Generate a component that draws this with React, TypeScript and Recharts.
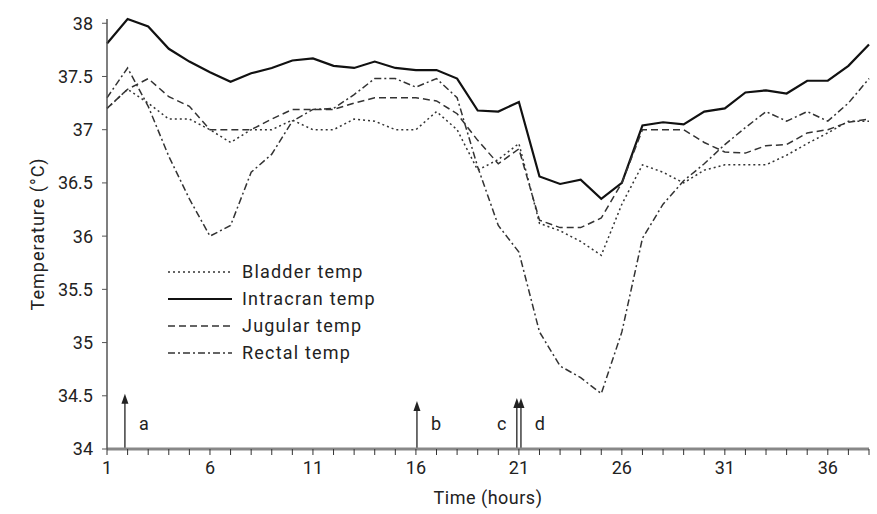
import React from 'react'
import { LineChart, Line, XAxis, YAxis, ReferenceLine } from 'recharts'

const hours = [1, 2, 3, 4, 5, 6, 7, 8, 9, 10, 11, 12, 13, 14, 15, 16, 17, 18, 19, 20, 21, 22, 23, 24, 25, 26, 27, 28, 29, 30, 31, 32, 33, 34, 35, 36, 37, 38]

const bladder = [37.2, 37.38, 37.25, 37.1, 37.1, 37.0, 36.88, 37.0, 37.0, 37.09, 37.0, 37.0, 37.1, 37.08, 37.0, 37.0, 37.17, 37.0, 36.62, 36.72, 36.87, 36.12, 36.05, 35.95, 35.82, 36.3, 36.67, 36.6, 36.5, 36.62, 36.67, 36.67, 36.67, 36.76, 36.87, 36.97, 37.08, 37.08]
const intracran = [37.81, 38.04, 37.97, 37.76, 37.64, 37.54, 37.45, 37.53, 37.58, 37.65, 37.67, 37.6, 37.58, 37.64, 37.58, 37.56, 37.56, 37.48, 37.18, 37.17, 37.26, 36.56, 36.49, 36.53, 36.35, 36.5, 37.04, 37.07, 37.05, 37.17, 37.2, 37.35, 37.37, 37.34, 37.46, 37.46, 37.6, 37.8]
const jugular = [37.2, 37.38, 37.48, 37.31, 37.22, 37.0, 37.0, 37.0, 37.1, 37.19, 37.19, 37.19, 37.25, 37.3, 37.3, 37.3, 37.27, 37.15, 36.9, 36.68, 36.82, 36.15, 36.08, 36.08, 36.17, 36.5, 37.0, 37.0, 37.0, 36.88, 36.79, 36.78, 36.85, 36.86, 36.97, 37.0, 37.07, 37.1]
const rectal = [37.3, 37.58, 37.22, 36.75, 36.35, 36.0, 36.1, 36.6, 36.77, 37.08, 37.19, 37.2, 37.33, 37.48, 37.48, 37.4, 37.48, 37.3, 36.65, 36.1, 35.85, 35.1, 34.78, 34.67, 34.52, 35.1, 35.98, 36.3, 36.52, 36.68, 36.86, 37.02, 37.17, 37.08, 37.17, 37.08, 37.25, 37.48]

const yTicks = [34, 34.5, 35, 35.5, 36, 36.5, 37, 37.5, 38]

// event markers (hour, tip temperature, letter, which side the letter sits)
const eventHours = [1.87, 16.05, 20.9, 21.1]
const eventTops = [34.52, 34.45, 34.48, 34.48]
const eventLabels = ['a', 'b', 'c', 'd']
const eventSides = ['right', 'right', 'left', 'right']

const data = hours.map((h, i) => ({
    hour: h,
    bladder: bladder[i],
    intracran: intracran[i],
    jugular: jugular[i],
    rectal: rectal[i],
}))

const FONT = 'Roboto, "DejaVu Sans", sans-serif'
const INK = '#222'

const series = [
    { key: 'bladder', name: 'Bladder temp', stroke: '#333', width: 1.5, dash: '2 3' },
    { key: 'intracran', name: 'Intracran temp', stroke: '#111', width: 2.2, dash: undefined },
    { key: 'jugular', name: 'Jugular temp', stroke: '#333', width: 1.5, dash: '7 4' },
    { key: 'rectal', name: 'Rectal temp', stroke: '#333', width: 1.5, dash: '7 3 2 3' },
]

function LegendBox() {
    return (
        <div style={{ position: 'absolute', left: 167, top: 258, fontFamily: FONT, fontSize: 18, color: INK, letterSpacing: 1.2 }}>
            {series.map(s => (
                <div key={s.key} style={{ display: 'flex', alignItems: 'center', height: 27 }}>
                    <svg width={66} height={10} style={{ marginRight: 9 }}>
                        <line x1={1} y1={5} x2={65} y2={5} stroke={s.stroke} strokeWidth={s.width} strokeDasharray={s.dash} />
                    </svg>
                    <span>{s.name}</span>
                </div>
            ))}
        </div>
    )
}

function makeArrow(letter: string, side: string) {
    return (p: any) => {
        const { x1, y1, x2, y2 } = p
        const tx = side === 'right' ? x1 + 19 : x1 - 15
        return (
            <g>
                <line x1={x1} y1={y1} x2={x2} y2={y2 + 4} stroke="#222" strokeWidth={1.3} />
                <path d={`M${x2 - 3.5},${y2 + 10} L${x2},${y2} L${x2 + 3.5},${y2 + 10} Z`} fill="#222" />
                <text x={tx} y={y1 - 24} textAnchor="middle" dominantBaseline="middle" fontFamily={FONT} fontSize={18} fill={INK}>{letter}</text>
            </g>
        )
    }
}

export default function App() {
    return (
        <div style={{ position: 'fixed', left: 0, top: 0, width: 877, height: 514, background: '#fff' }}>
            <LineChart width={877} height={514} data={data} margin={{ top: 19, right: 8, bottom: 0, left: 0 }}>
                <XAxis
                    type="number"
                    dataKey="hour"
                    domain={[1, 38]}
                    ticks={hours}
                    interval={0}
                    tickFormatter={(v: number) => ((v - 1) % 5 === 0 ? String(v) : '')}
                    height={65}
                    tickSize={6}
                    tickMargin={6}
                    axisLine={{ stroke: '#888', strokeWidth: 3 }}
                    tickLine={{ stroke: '#333' }}
                    tick={{ fontFamily: FONT, fontSize: 18, fill: INK }}
                    label={{ value: 'Time (hours)', position: 'insideBottom', offset: 10, fontFamily: FONT, fontSize: 18, fill: INK, letterSpacing: 0.5 }}
                />
                <YAxis
                    type="number"
                    domain={[34, 38]}
                    ticks={yTicks}
                    interval={0}
                    width={107}
                    tickSize={5}
                    tickMargin={9}
                    axisLine={{ stroke: '#555', strokeWidth: 1.5 }}
                    tickLine={{ stroke: '#555' }}
                    tick={{ fontFamily: FONT, fontSize: 18, fill: INK }}
                    label={{ value: 'Temperature (°C)', angle: -90, position: 'center', dx: -16, fontFamily: FONT, fontSize: 18, fill: INK, letterSpacing: 1 }}
                />
                {series.map(s => (
                    <Line
                        key={s.key}
                        dataKey={s.key}
                        name={s.name}
                        stroke={s.stroke}
                        strokeWidth={s.width}
                        strokeDasharray={s.dash}
                        dot={false}
                        activeDot={false}
                        type="linear"
                        isAnimationActive={false}
                    />
                ))}
                {eventHours.map((h, i) => (
                    <ReferenceLine
                        key={eventLabels[i]}
                        segment={[{ x: h, y: 34 }, { x: h, y: eventTops[i] }]}
                        shape={makeArrow(eventLabels[i], eventSides[i])}
                    />
                ))}
            </LineChart>
            <LegendBox />
        </div>
    )
}
